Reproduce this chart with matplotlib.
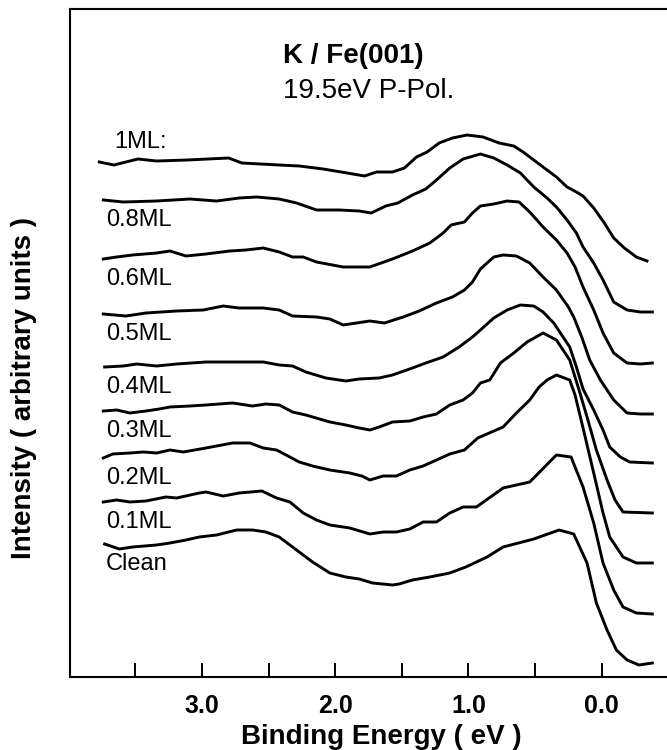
import matplotlib
matplotlib.use("Agg")
import matplotlib.pyplot as plt

plt.rcParams["font.family"] = ["Liberation Sans", "DejaVu Sans"]

# Binding energy (eV) and intensity (arb. units, stacked)
E_1ML = [3.77, 3.66, 3.48, 3.34, 3.11, 2.80, 2.70, 2.42, 2.27, 2.09, 1.91, 1.78, 1.69, 1.57, 1.48,
         1.39, 1.31, 1.22, 1.12, 1.01, 0.89, 0.77, 0.66, 0.59, 0.49, 0.41, 0.34, 0.26, 0.19, 0.14,
         0.06, -0.02, -0.09, -0.17, -0.26, -0.34]
I_1ML = [515, 512, 518, 516, 517, 519, 514, 512, 511, 508, 504, 501, 505, 505, 509,
         520, 525, 534, 539, 542, 540, 534, 531, 525, 515, 507, 500, 490, 485, 481,
         469, 454, 439, 429, 420, 416]

E_08ML = [3.74, 3.59, 3.34, 3.09, 2.89, 2.72, 2.59, 2.42, 2.29, 2.14, 1.97, 1.82, 1.73, 1.62, 1.53,
          1.42, 1.32, 1.24, 1.14, 1.04, 0.91, 0.81, 0.71, 0.61, 0.51, 0.41, 0.34, 0.26, 0.19, 0.14,
          0.06, -0.01, -0.09, -0.19, -0.29, -0.38]
I_08ML = [477, 475, 476, 478, 476, 479, 480, 478, 474, 467, 467, 466, 464, 471, 474,
          482, 488, 497, 509, 518, 523, 519, 512, 504, 490, 479, 470, 457, 444, 430,
          414, 397, 375, 367, 365, 365]

E_06ML = [3.74, 3.64, 3.52, 3.34, 3.24, 3.12, 2.97, 2.79, 2.67, 2.54, 2.42, 2.32, 2.24, 2.14, 1.94,
          1.74, 1.57, 1.42, 1.29, 1.19, 1.13, 1.03, 0.97, 0.91, 0.81, 0.71, 0.62, 0.54, 0.44, 0.34,
          0.26, 0.20, 0.14, 0.06, -0.01, -0.09, -0.19, -0.29, -0.38]
I_06ML = [418, 420, 422, 424, 426, 421, 423, 426, 427, 429, 425, 420, 420, 415, 410,
          410, 418, 426, 434, 444, 452, 455, 464, 471, 473, 476, 475, 465, 450, 437,
          424, 410, 390, 367, 344, 324, 314, 313, 314]

E_05ML = [3.74, 3.57, 3.42, 3.19, 2.99, 2.84, 2.72, 2.54, 2.42, 2.32, 2.14, 2.04, 1.94, 1.84, 1.74,
          1.63, 1.49, 1.37, 1.24, 1.12, 1.03, 0.97, 0.91, 0.81, 0.74, 0.64, 0.54, 0.44, 0.34, 0.25,
          0.21, 0.15, 0.09, 0.01, -0.09, -0.19, -0.29, -0.38]
I_05ML = [363, 361, 364, 366, 367, 371, 369, 369, 367, 361, 360, 358, 352, 354, 356,
          354, 360, 366, 374, 380, 387, 395, 408, 420, 422, 421, 414, 400, 387, 370,
          360, 340, 317, 297, 277, 264, 263, 263]

E_04ML = [3.73, 3.59, 3.49, 3.34, 3.19, 2.97, 2.79, 2.69, 2.54, 2.42, 2.32, 2.22, 2.07, 1.92, 1.82,
          1.67, 1.57, 1.42, 1.32, 1.19, 1.07, 0.97, 0.91, 0.81, 0.71, 0.61, 0.51, 0.44, 0.36, 0.29,
          0.24, 0.19, 0.14, 0.06, -0.01, -0.06, -0.14, -0.21, -0.38]
I_04ML = [310, 311, 313, 311, 313, 315, 315, 315, 315, 312, 311, 305, 299, 296, 298,
          299, 302, 309, 314, 320, 330, 340, 347, 359, 367, 372, 371, 365, 354, 340,
          330, 310, 288, 267, 247, 230, 220, 215, 214]

E_03ML = [3.74, 3.64, 3.54, 3.42, 3.32, 3.24, 3.09, 2.97, 2.77, 2.62, 2.52, 2.42, 2.32, 2.22, 2.04,
          1.92, 1.82, 1.74, 1.67, 1.57, 1.44, 1.34, 1.24, 1.14, 1.04, 0.97, 0.91, 0.84, 0.76, 0.66,
          0.56, 0.44, 0.34, 0.24, 0.17, 0.11, 0.04, -0.04, -0.10, -0.16, -0.38]
I_03ML = [266, 267, 264, 266, 268, 270, 271, 272, 274, 271, 273, 272, 265, 262, 255,
          252, 249, 247, 250, 255, 256, 260, 263, 272, 277, 284, 294, 297, 314, 324,
          335, 344, 337, 317, 287, 260, 227, 197, 177, 165, 164]

E_02ML = [3.74, 3.67, 3.54, 3.44, 3.34, 3.24, 3.14, 2.97, 2.77, 2.64, 2.54, 2.44, 2.34, 2.27, 2.17,
          2.04, 1.89, 1.80, 1.74, 1.64, 1.54, 1.44, 1.34, 1.24, 1.14, 1.03, 0.93, 0.74, 0.64, 0.54,
          0.47, 0.41, 0.34, 0.24, 0.20, 0.14, 0.06, -0.01, -0.06, -0.16, -0.26, -0.38]
I_02ML = [219, 223, 224, 225, 224, 227, 225, 229, 234, 234, 229, 227, 220, 215, 211,
          207, 204, 201, 197, 201, 201, 207, 211, 217, 223, 227, 239, 250, 264, 277,
          290, 297, 302, 297, 282, 249, 204, 164, 140, 120, 114, 114]

E_01ML = [3.74, 3.64, 3.54, 3.42, 3.27, 3.19, 3.02, 2.97, 2.84, 2.72, 2.55, 2.44, 2.34, 2.24, 2.14,
          2.04, 1.89, 1.74, 1.64, 1.54, 1.44, 1.34, 1.24, 1.14, 1.04, 0.94, 0.74, 0.54, 0.34, 0.23,
          0.14, 0.06, -0.01, -0.09, -0.16, -0.26, -0.38]
I_01ML = [175, 177, 175, 176, 180, 179, 184, 185, 181, 184, 186, 179, 175, 164, 157,
          152, 149, 143, 145, 145, 148, 155, 155, 164, 170, 170, 189, 195, 222, 220,
          190, 154, 114, 87, 70, 64, 63]

E_CLEAN = [3.73, 3.62, 3.52, 3.34, 3.24, 3.12, 3.02, 2.89, 2.74, 2.62, 2.52, 2.42, 2.34, 2.17, 2.04,
           1.92, 1.82, 1.72, 1.57, 1.52, 1.42, 1.29, 1.14, 1.02, 0.86, 0.74, 0.51, 0.32, 0.21, 0.11,
           0.04, -0.04, -0.11, -0.19, -0.28, -0.38]
I_CLEAN = [133, 128, 130, 132, 134, 137, 140, 142, 147, 147, 145, 140, 132, 115, 104,
           100, 98, 94, 92, 93, 97, 100, 104, 110, 120, 130, 138, 147, 143, 114,
           74, 47, 27, 17, 12, 14]

LABELS = ["1ML:", "0.8ML", "0.6ML", "0.5ML", "0.4ML", "0.3ML", "0.2ML", "0.1ML", "Clean"]
SPECTRA = [(E_1ML, I_1ML), (E_08ML, I_08ML), (E_06ML, I_06ML), (E_05ML, I_05ML),
           (E_04ML, I_04ML), (E_03ML, I_03ML), (E_02ML, I_02ML), (E_01ML, I_01ML),
           (E_CLEAN, I_CLEAN)]

TICKS = [3.5, 3.0, 2.5, 2.0, 1.5, 1.0, 0.5, 0.0]
TICK_LABELS = ["", "3.0", "", "2.0", "", "1.0", "", "0.0"]

fig = plt.figure(figsize=(6.67, 7.5), dpi=100)
ax = fig.add_axes([70 / 667, 73 / 750, 597 / 667, 668 / 750])

for (energy, inten), label in zip(SPECTRA, LABELS):
    ax.plot(energy, inten, color="black", lw=2.1, solid_joinstyle="round")
    # labels sit just under their curve, except the top one which sits above
    dy = 20 if label == "1ML:" else -20
    lx = 3.66 if label == "1ML:" else 3.72
    ax.text(lx, inten[0] + dy, label, ha="left", va="center", fontsize=17)

ax.set_xlim(3.99, -0.49)
ax.set_ylim(0, 668)
ax.set_xticks(TICKS)
ax.set_xticklabels(TICK_LABELS, fontweight="bold", fontsize=18)
ax.set_yticks([])
ax.tick_params(axis="x", direction="in", length=10, width=1.4, pad=12)
ax.spines["right"].set_visible(False)
for side in ("left", "bottom", "top"):
    ax.spines[side].set_linewidth(1.5)

ax.text(0.357, 0.919, "K / Fe(001)", transform=ax.transAxes, ha="left", va="baseline",
        fontsize=20, fontweight="bold")
ax.text(0.357, 0.867, "19.5eV P-Pol.", transform=ax.transAxes, ha="left", va="baseline",
        fontsize=20)

fig.text(381 / 667, 1 - 737 / 750, "Binding Energy ( eV )", ha="center", va="center",
         fontsize=20, fontweight="bold")
fig.text(24 / 667, 1 - 388 / 750, "Intensity ( arbitrary units )", rotation=90,
         ha="center", va="center", fontsize=20, fontweight="bold")

fig.savefig("out.png", dpi=100)
